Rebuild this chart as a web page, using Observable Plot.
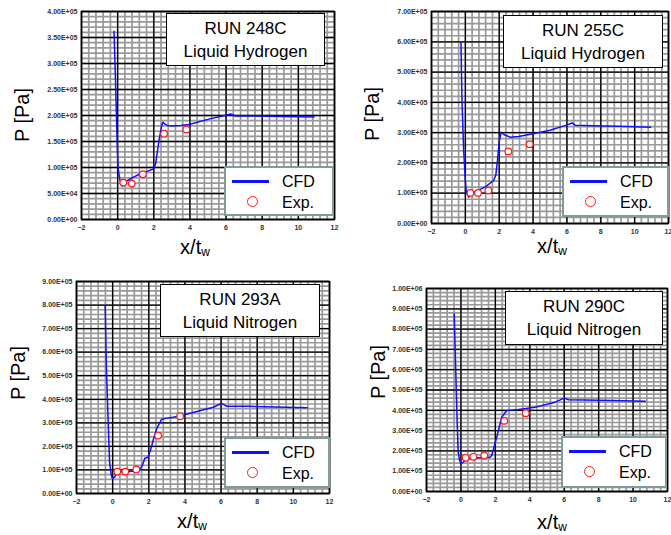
<!DOCTYPE html>
<html>
<head>
<meta charset="utf-8">
<script src="https://cdn.jsdelivr.net/npm/d3@7"></script>
<script src="https://cdn.jsdelivr.net/npm/@observablehq/plot@0.6"></script>
<style>
  html, body { margin: 0; padding: 0; background: #fff; }
  #page { position: relative; width: 671px; height: 535px; overflow: hidden; font-family: "Liberation Sans", Arial, sans-serif; }
  .panel { position: absolute; }
  .panel svg { display: block; }
  .title-box { position: absolute; box-sizing: border-box; border: 1.2px solid #000; background: #fff;
    display: flex; flex-direction: column; justify-content: center; align-items: center; }
  .title-box div { font-size: 17px; line-height: 23px; color: #000; }
  .legend-box { position: absolute; box-sizing: border-box; border: 2.5px solid #7f9c9c; background: #fff; }
  .legend-box .swatch-line { position: absolute; height: 3px; background: #1010ff; }
  .legend-box .swatch-dot { position: absolute; box-sizing: border-box; border: 1.3px solid #ff1a1a; border-radius: 50%; }
  .legend-box .lbl { position: absolute; font-size: 16px; line-height: 16px; color: #000; }
  .axis-title { position: absolute; font-size: 20px; line-height: 22px; color: #000; white-space: nowrap; }
  .axis-title sub { font-size: 12px; vertical-align: -2px; line-height: 0; }
</style>
</head>
<body>
<div id="page"></div>
<script>
// Shared axis ticks
const xTicks = [-2, 0, 2, 4, 6, 8, 10, 12];

// RUN 248C, liquid hydrogen
const yTicks248 = [0, 5e4, 1e5, 1.5e5, 2e5, 2.5e5, 3e5, 3.5e5, 4e5];
const cfdX248 = [-0.2, -0.14, -0.09, -0.04, -0.01, 0.02, 0.13, 0.26, 0.35, 0.5, 0.8, 1.2, 1.6, 2.0, 2.1, 2.29, 2.44, 2.51, 2.6, 2.75, 3.0, 3.5, 4.0, 5.15, 5.8, 6.26, 6.5, 7.5, 9.0, 10.87];
const cfdP248 = [3.62e5, 2.93e5, 2.29e5, 1.65e5, 1.3e5, 1.0e5, 0.75e5, 0.64e5, 0.72e5, 0.74e5, 0.8e5, 0.87e5, 0.92e5, 0.975e5, 1.07e5, 1.52e5, 1.81e5, 1.87e5, 1.84e5, 1.81e5, 1.80e5, 1.81e5, 1.83e5, 1.94e5, 1.99e5, 2.03e5, 1.99e5, 1.99e5, 1.98e5, 1.97e5];
const expX248 = [0.31, 0.78, 1.40, 2.57, 3.8];
const expP248 = [0.71e5, 0.69e5, 0.87e5, 1.65e5, 1.73e5];

// RUN 255C, liquid hydrogen
const yTicks255 = [0, 1e5, 2e5, 3e5, 4e5, 5e5, 6e5, 7e5];
const cfdX255 = [-0.26, -0.2, -0.1, 0.0, 0.06, 0.2, 0.27, 0.4, 0.8, 1.2, 1.67, 1.8, 1.9, 2.0, 2.11, 2.3, 2.66, 3.15, 4.0, 5.0, 5.92, 6.31, 6.5, 7.5, 9.0, 10.95];
const cfdP255 = [5.99e5, 4.06e5, 2.41e5, 1.42e5, 1.03e5, 0.87e5, 0.97e5, 1.0e5, 1.1e5, 1.22e5, 1.42e5, 1.6e5, 2.1e5, 2.7e5, 3.01e5, 2.93e5, 2.85e5, 2.87e5, 2.96e5, 3.08e5, 3.24e5, 3.32e5, 3.24e5, 3.23e5, 3.21e5, 3.18e5];
const expX255 = [0.3, 0.75, 1.36, 2.54, 3.8];
const expP255 = [1.01e5, 1.01e5, 1.09e5, 2.38e5, 2.62e5];

// RUN 293A, liquid nitrogen
const yTicks293 = [0, 1e5, 2e5, 3e5, 4e5, 5e5, 6e5, 7e5, 8e5, 9e5];
const cfdX293 = [-0.41, -0.35, -0.26, -0.17, -0.07, -0.02, 0.11, 0.24, 0.5, 0.9, 1.3, 1.5, 1.65, 1.78, 1.96, 2.1, 2.24, 2.43, 2.7, 3.0, 3.35, 3.81, 4.5, 5.57, 6.04, 6.31, 7.5, 9.0, 10.76];
const cfdP293 = [7.95e5, 5.43e5, 3.31e5, 1.33e5, 0.76e5, 0.65e5, 0.69e5, 0.90e5, 0.92e5, 0.93e5, 0.95e5, 1.0e5, 1.2e5, 1.5e5, 1.54e5, 1.85e5, 2.25e5, 2.74e5, 3.14e5, 3.2e5, 3.24e5, 3.31e5, 3.45e5, 3.66e5, 3.83e5, 3.7e5, 3.7e5, 3.67e5, 3.64e5];
const expX293 = [0.26, 0.7, 1.31, 2.52, 3.74];
const expP293 = [0.93e5, 0.93e5, 1.02e5, 2.46e5, 3.28e5];

// RUN 290C, liquid nitrogen
const yTicks290 = [0, 1e5, 2e5, 3e5, 4e5, 5e5, 6e5, 7e5, 8e5, 9e5, 1e6];
const cfdX290 = [-0.39, -0.31, -0.23, -0.16, -0.08, 0.0, 0.13, 0.33, 1.0, 1.69, 1.79, 2.08, 2.37, 2.66, 3.34, 4.31, 5.47, 6.01, 6.25, 8.0, 10.71];
const cfdP290 = [8.75e5, 6.21e5, 3.74e5, 1.94e5, 1.55e5, 1.36e5, 1.44e5, 1.61e5, 1.66e5, 1.69e5, 1.77e5, 2.68e5, 3.66e5, 3.99e5, 4.04e5, 4.15e5, 4.4e5, 4.6e5, 4.52e5, 4.49e5, 4.45e5];
const expX290 = [0.27, 0.72, 1.36, 2.52, 3.77];
const expP290 = [1.66e5, 1.71e5, 1.77e5, 3.48e5, 3.86e5];

// Spreadsheet-style scientific notation: 4.00E+05
function sci(v) {
  const [m, e] = v.toExponential(2).split("e");
  const n = Math.abs(+e);
  return m + "E" + (+e < 0 ? "-" : "+") + String(n).padStart(2, "0");
}
const fmtX = d3.format("d");

const panels = [
  { left: 0, top: 0, w: 336, h: 265, m: [11, 2, 46, 81], yTicks: yTicks248, cx: cfdX248, cp: cfdP248, ex: expX248, ep: expP248,
    title: ["RUN 248C", "Liquid Hydrogen"], tBox: [166, 13, 159, 53], lBox: [224, 166, 110, 50],
    yLab: [22, 115], xLab: [195, 247] },
  { left: 335, top: 0, w: 336, h: 265, m: [11, 3, 42, 96], yTicks: yTicks255, cx: cfdX255, cp: cfdP255, ex: expX255, ep: expP255,
    title: ["RUN 255C", "Liquid Hydrogen"], tBox: [168, 15, 160, 53], lBox: [227, 166, 107, 51],
    yLab: [37, 114], xLab: [217, 246] },
  { left: 0, top: 265, w: 336, h: 270, m: [16, 7, 42, 76], yTicks: yTicks293, cx: cfdX293, cp: cfdP293, ex: expX293, ep: expP293,
    title: ["RUN 293A", "Liquid Nitrogen"], tBox: [160, 19, 160, 53], lBox: [224, 172, 106, 51],
    yLab: [18, 108], xLab: [192, 256] },
  { left: 335, top: 265, w: 336, h: 270, m: [23, 4, 44, 91], yTicks: yTicks290, cx: cfdX290, cp: cfdP290, ex: expX290, ep: expP290,
    title: ["RUN 290C", "Liquid Nitrogen"], tBox: [170, 26, 158, 54], lBox: [226, 171, 106, 52],
    yLab: [43, 107], xLab: [217, 257] }
];

const page = document.getElementById("page");

for (const p of panels) {
  const yMax = p.yTicks[p.yTicks.length - 1];
  const yStep = p.yTicks[1] - p.yTicks[0];
  const minorX = d3.range(-2, 12.0001, 0.4);
  const minorY = d3.range(0, yMax + yStep * 0.01, yStep / 5);
  const cfd = p.cx.map((x, i) => ({ x, p: p.cp[i] }));
  const exp = p.ex.map((x, i) => ({ x, p: p.ep[i] }));

  const chart = Plot.plot({
    width: p.w,
    height: p.h,
    marginTop: p.m[0],
    marginRight: p.m[1],
    marginBottom: p.m[2],
    marginLeft: p.m[3],
    style: { fontFamily: "Liberation Sans, Arial, sans-serif", background: "transparent", overflow: "visible" },
    x: { domain: [-2, 12], label: null },
    y: { domain: [0, yMax], label: null },
    marks: [
      Plot.gridX(minorX, { stroke: "#999", strokeOpacity: 1, strokeWidth: 1.7 }),
      Plot.gridY(minorY, { stroke: "#999", strokeOpacity: 1, strokeWidth: 1.7 }),
      Plot.gridX(xTicks, { stroke: "#000", strokeOpacity: 1, strokeWidth: 1.3 }),
      Plot.gridY(p.yTicks, { stroke: "#000", strokeOpacity: 1, strokeWidth: 1.3 }),
      Plot.axisX(xTicks, { tickSize: 0, tickPadding: 6, tickFormat: fmtX, fontSize: 7, fontWeight: "bold", fill: "#333", label: null }),
      Plot.axisY(p.yTicks, { tickSize: 0, tickPadding: 4, tickFormat: sci, fontSize: 7, fontWeight: "bold", fill: "#333", label: null }),
      Plot.frame({ stroke: "#000", strokeWidth: 1.5 }),
      Plot.line(cfd, { x: "x", y: "p", stroke: "#1010ff", strokeWidth: 1.5 }),
      Plot.dot(exp, { x: "x", y: "p", r: 3.3, stroke: "#ff1a1a", strokeWidth: 1.2, fill: "white" })
    ]
  });

  const wrap = document.createElement("div");
  wrap.className = "panel";
  wrap.style.left = p.left + "px";
  wrap.style.top = p.top + "px";
  wrap.style.width = p.w + "px";
  wrap.style.height = p.h + "px";
  wrap.appendChild(chart);

  // Run title box
  const tb = document.createElement("div");
  tb.className = "title-box";
  Object.assign(tb.style, { left: p.tBox[0] + "px", top: p.tBox[1] + "px", width: p.tBox[2] + "px", height: p.tBox[3] + "px" });
  for (const line of p.title) {
    const d = document.createElement("div");
    d.textContent = line;
    tb.appendChild(d);
  }
  wrap.appendChild(tb);

  // Legend box: CFD line, Exp. circles
  const lb = document.createElement("div");
  lb.className = "legend-box";
  Object.assign(lb.style, { left: p.lBox[0] + "px", top: p.lBox[1] + "px", width: p.lBox[2] + "px", height: p.lBox[3] + "px" });
  lb.innerHTML =
    '<div class="swatch-line" style="left:6px;top:12px;width:37px"></div>' +
    '<div class="lbl" style="left:56px;top:6px">CFD</div>' +
    '<div class="swatch-dot" style="left:21px;top:28px;width:11px;height:11px"></div>' +
    '<div class="lbl" style="left:56px;top:27px">Exp.</div>';
  wrap.appendChild(lb);

  // Axis titles
  const yl = document.createElement("div");
  yl.className = "axis-title";
  yl.textContent = "P [Pa]";
  Object.assign(yl.style, { left: p.yLab[0] + "px", top: p.yLab[1] + "px", transform: "translate(-50%, -50%) rotate(-90deg)" });
  wrap.appendChild(yl);

  const xl = document.createElement("div");
  xl.className = "axis-title";
  xl.innerHTML = "x/t<sub>w</sub>";
  Object.assign(xl.style, { left: p.xLab[0] + "px", top: p.xLab[1] + "px", transform: "translate(-50%, -50%)" });
  wrap.appendChild(xl);

  page.appendChild(wrap);
}
</script>
</body>
</html>
